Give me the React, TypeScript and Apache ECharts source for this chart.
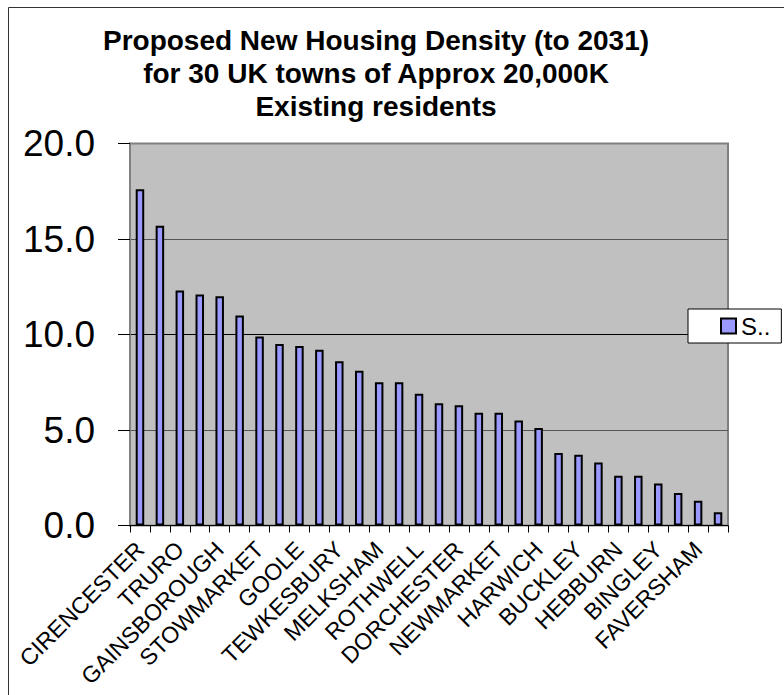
import React, { useEffect, useRef } from "react";
import * as echarts from "echarts";

const titleLines = [
  "Proposed New Housing Density (to 2031)",
  "for 30 UK towns of Approx 20,000K",
  "Existing residents",
];

const towns = [
  "CIRENCESTER", "Town 2", "TRURO", "Town 4", "GAINSBOROUGH", "Town 6",
  "STOWMARKET", "Town 8", "GOOLE", "Town 10", "TEWKESBURY", "Town 12",
  "MELKSHAM", "Town 14", "ROTHWELL", "Town 16", "DORCHESTER", "Town 18",
  "NEWMARKET", "Town 20", "HARWICH", "Town 22", "BUCKLEY", "Town 24",
  "HEBBURN", "Town 26", "BINGLEY", "Town 28", "FAVERSHAM", "Town 30",
];

const density = [
  17.6, 15.7, 12.3, 12.1, 12.0, 11.0, 9.9, 9.5, 9.4, 9.2,
  8.6, 8.1, 7.5, 7.5, 6.9, 6.4, 6.3, 5.9, 5.9, 5.5,
  5.1, 3.8, 3.7, 3.3, 2.6, 2.6, 2.2, 1.7, 1.3, 0.7,
];

const seriesName = "Series1";
const legendLabel = "S..";

const yMin = 0;
const yMax = 20;
const yStep = 5;

const FONT = '"Liberation Sans", Arial, Helvetica, sans-serif';

export default function App() {
  const ref = useRef<HTMLDivElement>(null);

  useEffect(() => {
    if (!ref.current) return;
    const chart = echarts.init(ref.current, undefined, { renderer: "svg" });
    chart.setOption({
      animation: false,
      backgroundColor: "#ffffff",
      graphic: [
        {
          type: "rect",
          shape: { x: 8.5, y: 7.5, width: 800, height: 700 },
          style: { fill: "none", stroke: "#333333", lineWidth: 1 },
          silent: true,
        },
        {
          type: "text",
          x: 376,
          y: 24,
          style: {
            text: titleLines.join("\n"),
            font: `bold 28px ${FONT}`,
            fill: "#000000",
            align: "center",
            verticalAlign: "top",
            lineHeight: 33,
          },
          silent: true,
        },
      ],
      legend: {
        show: true,
        left: 688,
        top: 309,
        orient: "vertical",
        padding: [5, 11, 5, 32],
        backgroundColor: "#ffffff",
        borderColor: "#000000",
        borderWidth: 1,
        borderRadius: 0,
        icon: "rect",
        itemWidth: 15,
        itemHeight: 15,
        formatter: () => legendLabel,
        textStyle: { fontSize: 24, fontFamily: FONT, color: "#000000" },
        itemStyle: { borderColor: "#000000", borderWidth: 2 },
        data: [seriesName],
      },
      grid: {
        left: 130,
        right: 56,
        top: 143.5,
        bottom: 169.5,
        show: true,
        backgroundColor: "#C0C0C0",
        borderColor: "#808080",
        borderWidth: 2,
      },
      xAxis: {
        type: "category",
        data: towns,
        boundaryGap: true,
        axisLine: { show: true, lineStyle: { color: "#000000", width: 1 } },
        axisTick: {
          show: true,
          alignWithLabel: false,
          interval: 0,
          length: 7,
          lineStyle: { color: "#000000", width: 1 },
        },
        axisLabel: {
          interval: 1,
          rotate: 45,
          margin: 20,
          fontSize: 23,
          fontFamily: FONT,
          color: "#000000",
        },
        splitLine: { show: false },
      },
      yAxis: {
        type: "value",
        min: yMin,
        max: yMax,
        interval: yStep,
        axisLine: { show: true, lineStyle: { color: "#808080", width: 2 } },
        axisTick: {
          show: true,
          length: 12,
          lineStyle: { color: "#000000", width: 1 },
        },
        axisLabel: {
          margin: 35,
          fontSize: 37,
          fontFamily: FONT,
          color: "#000000",
          formatter: (v: number) => v.toFixed(1),
        },
        splitLine: {
          show: true,
          lineStyle: {
            color: ["#000000", "#555555", "#000000", "#555555", "#808080"],
            width: 1,
          },
        },
      },
      series: [
        {
          name: seriesName,
          type: "bar",
          data: density,
          barWidth: 8.5,
          itemStyle: {
            color: "#9999FF",
            borderColor: "#000000",
            borderWidth: 2,
          },
        },
      ],
    });
    return () => chart.dispose();
  }, []);

  return (
    <div
      ref={ref}
      style={{ position: "fixed", left: 0, top: 0, width: 784, height: 695 }}
    />
  );
}
